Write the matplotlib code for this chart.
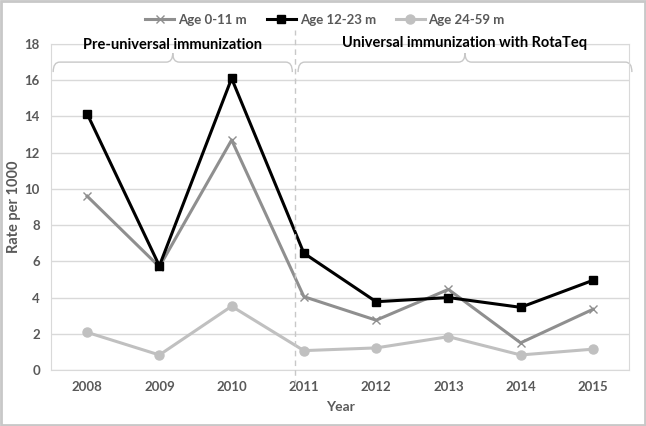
import numpy as np
import matplotlib.pyplot as plt
from matplotlib.path import Path
from matplotlib.patches import PathPatch, Rectangle

# --- Data ---
years = ["2008", "2009", "2010", "2011", "2012", "2013", "2014", "2015"]
age_0_11 = [9.6, 5.7, 12.7, 4.05, 2.75, 4.45, 1.5, 3.35]
age_12_23 = [14.15, 5.75, 16.1, 6.45, 3.77, 4.0, 3.46, 4.95]
age_24_59 = [2.08, 0.83, 3.52, 1.07, 1.22, 1.84, 0.83, 1.15]
series_labels = ["Age 0-11 m", "Age 12-23 m", "Age 24-59 m"]
period_labels = ["Pre-universal immunization", "Universal immunization with RotaTeq"]

# --- Style ---
TXT = "#595959"
GRID = "#d9d9d9"
plt.rcParams['font.family'] = ['Lato', 'DejaVu Sans']

fig = plt.figure(figsize=(6.46, 4.26), dpi=100)
W, H = 646, 426
ax = fig.add_axes([51 / W, (H - 370) / H, (629 - 51) / W, (370 - 44) / H])

x = np.arange(len(years))
ax.plot(x, age_0_11, color="#8f8f8f", lw=2.2, marker="x", ms=6, mew=1.0,
        label=series_labels[0], zorder=3)
ax.plot(x, age_12_23, color="black", lw=2.2, marker="s", ms=6,
        label=series_labels[1], zorder=4)
ax.plot(x, age_24_59, color="#c0c0c0", lw=2.2, marker="o", ms=6.5,
        label=series_labels[2], zorder=3)

ax.set_xlim(-0.5, len(years) - 0.5)
ax.set_ylim(0, 18)
ax.set_yticks(np.arange(0, 19, 2))
ax.set_xticks(x)
ax.set_xticklabels(years)
ax.yaxis.grid(True, color=GRID, lw=1)
ax.set_axisbelow(True)
for s in ax.spines.values():
    s.set_color(GRID)
ax.tick_params(length=0, colors=TXT, labelsize=9.5, pad=8)
for lab in ax.get_xticklabels() + ax.get_yticklabels():
    lab.set_fontweight("bold")
ax.tick_params(axis="y", pad=8)
ax.set_xlabel("Year", color=TXT, fontsize=10, fontweight="bold", labelpad=6)
ax.set_ylabel("Rate per 1000", color=TXT, fontsize=10.5, fontweight="bold")
ax.yaxis.set_label_coords(-0.052, 0.5)

# dashed divider between periods
xdiv = 2.88
ax.plot([xdiv, xdiv], [-0.85, 18.8], color="#c8c8c8", lw=1, ls=(0, (4, 3)),
        clip_on=False, zorder=5)


# curly braces above each period
def brace(x0, x1, yb=16.45, yl=17.0, yt=17.5, dx=0.09):
    xm = (x0 + x1) / 2
    verts = [(x0, yb), (x0, yl), (x0 + dx, yl),
             (xm - dx, yl), (xm, yl), (xm, yt),
             (xm, yl), (xm + dx, yl),
             (x1 - dx, yl), (x1, yl), (x1, yb)]
    codes = [Path.MOVETO, Path.CURVE3, Path.CURVE3,
             Path.LINETO, Path.CURVE3, Path.CURVE3,
             Path.CURVE3, Path.CURVE3,
             Path.LINETO, Path.CURVE3, Path.CURVE3]
    ax.add_patch(PathPatch(Path(verts, codes), fill=False, ec="#c8c8c8",
                           lw=1, clip_on=False, zorder=2))
    return xm


m1 = brace(-0.47, 2.84)
m2 = brace(2.92, 7.54)
ax.text(m1, 17.95, period_labels[0], ha="center", va="center", fontsize=10.5,
        fontweight="bold", color="black", zorder=6)
ax.text(m2, 18.05, period_labels[1], ha="center", va="center", fontsize=10.5,
        fontweight="bold", color="black", zorder=6)

leg = fig.legend(loc="center", bbox_to_anchor=(325 / W, 1 - 20 / H), ncol=3,
                 frameon=False, fontsize=9.5, handlelength=2.2,
                 columnspacing=1.5, handletextpad=0.3)
for t in leg.get_texts():
    t.set_color(TXT)
    t.set_fontweight("bold")

# outer chart border
fig.patches.append(Rectangle((0.002, 0.003), 0.996, 0.994, transform=fig.transFigure,
                             fill=False, ec="#c8c8c8", lw=2))

fig.savefig("out.png", dpi=100)
